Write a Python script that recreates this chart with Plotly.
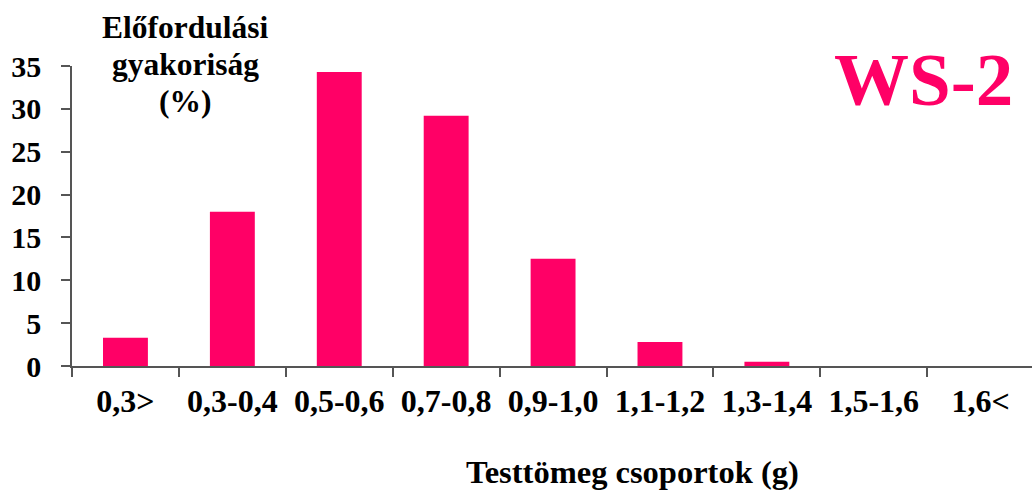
import plotly.graph_objects as go

# Body-mass classes (g) and their share of the sample (%)
categories = ["0,3>", "0,3-0,4", "0,5-0,6", "0,7-0,8", "0,9-1,0",
              "1,1-1,2", "1,3-1,4", "1,5-1,6", "1,6<"]
frequency = [3.3, 18.0, 34.3, 29.2, 12.5, 2.8, 0.5, 0, 0]
y_ticks = [0, 5, 10, 15, 20, 25, 30, 35]
y_title_lines = ["Előfordulási", "gyakoriság", "(%)"]

PINK = "#FF0066"
SERIF = "Liberation Serif"
AXIS = "#555555"

# plot-area geometry in pixels, used to place the free text
L, T, W, H = 72, 66, 960, 300


def px_x(x):
    return (x - L) / W


def px_y(y):
    return 1 - (y - T) / H


fig = go.Figure(
    go.Bar(
        x=categories,
        y=frequency,
        width=0.42,
        marker=dict(color=PINK, line=dict(width=0)),
    )
)

fig.update_layout(
    width=1032,
    height=493,
    margin=dict(l=L, r=1032 - L - W, t=T, b=493 - T - H),
    paper_bgcolor="white",
    plot_bgcolor="white",
    showlegend=False,
    font=dict(family=SERIF, color="black"),
    xaxis=dict(
        type="category",
        range=[-0.5, 8.48],
        tickson="boundaries",
        ticks="outside",
        ticklen=9,
        tickwidth=1.5,
        tickcolor=AXIS,
        showline=True,
        linecolor=AXIS,
        linewidth=1.5,
        showgrid=False,
        ticklabelstandoff=6,
        tickfont=dict(family=SERIF, size=32, color="black", weight="bold"),
    ),
    yaxis=dict(
        range=[0, 35],
        tickvals=y_ticks,
        ticks="outside",
        ticklen=9,
        tickwidth=1.5,
        tickcolor=AXIS,
        showline=True,
        linecolor=AXIS,
        linewidth=1.5,
        showgrid=False,
        zeroline=False,
        ticklabelstandoff=14,
        tickfont=dict(family=SERIF, size=30, color="black", weight="bold"),
    ),
)

# three-line y-axis title above the axis
for line, yc in zip(y_title_lines, [28, 65, 101]):
    fig.add_annotation(
        text=f"<b>{line}</b>",
        xref="paper", yref="paper",
        x=px_x(185), y=px_y(yc),
        xanchor="center", yanchor="middle",
        showarrow=False,
        font=dict(family=SERIF, size=31.5, color="black"),
    )

fig.add_annotation(
    text="<b>Testtömeg csoportok (g)</b>",
    xref="paper", yref="paper",
    x=px_x(632), y=px_y(472),
    xanchor="center", yanchor="middle",
    showarrow=False,
    font=dict(family=SERIF, size=32.5, color="black"),
)

fig.add_annotation(
    text="<b>WS-2</b>",
    xref="paper", yref="paper",
    x=px_x(923), y=px_y(79),
    xanchor="center", yanchor="middle",
    showarrow=False,
    font=dict(family=SERIF, size=75, color=PINK),
)

fig.write_html("out.html")
